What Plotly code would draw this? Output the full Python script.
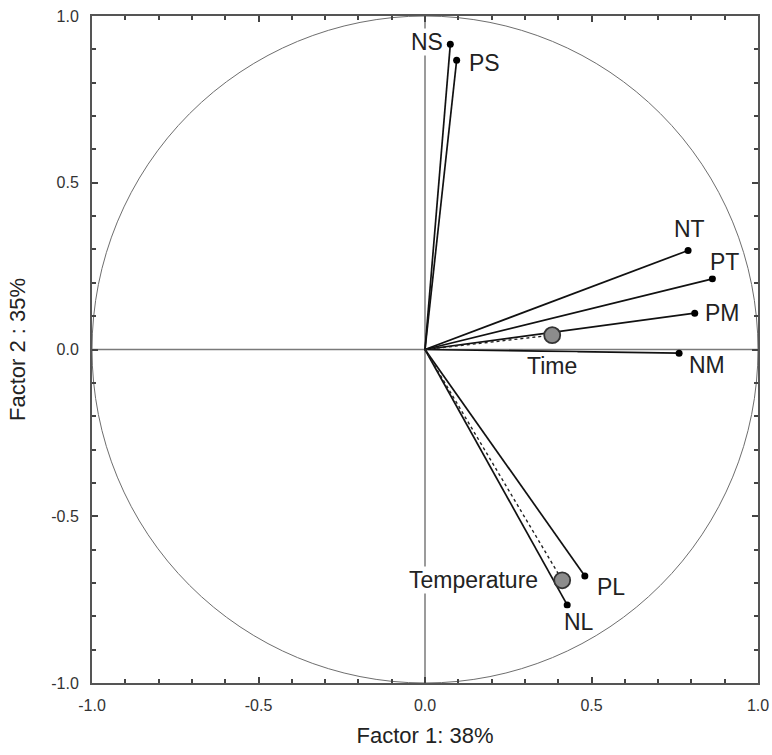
import plotly.graph_objects as go

# Active variables (factor loadings)
var_names = ["NS", "PS", "NT", "PT", "PM", "NM", "PL", "NL"]
var_f1 = [0.076, 0.095, 0.790, 0.863, 0.810, 0.763, 0.480, 0.427]
var_f2 = [0.915, 0.867, 0.297, 0.212, 0.109, -0.011, -0.679, -0.766]

# Supplementary variables
sup_names = ["Time", "Temperature"]
sup_f1 = [0.382, 0.412]
sup_f2 = [0.043, -0.692]

tick_vals = [-1.0, -0.5, 0.0, 0.5, 1.0]
tick_text = ["-1.0", "-0.5", "0.0", "0.5", "1.0"]

x_title = "Factor 1: 38%"
y_title = "Factor 2 : 35%"

FONT = "Liberation Sans, Arial"

# label offsets (px): xshift, yshift, xanchor
var_label_pos = {
    "NS": (-6, 2, "right"),
    "PS": (11, -3, "left"),
    "NT": (1, 21, "center"),
    "PT": (12, 17, "center"),
    "PM": (9, 0, "left"),
    "NM": (28, -12, "center"),
    "PL": (26, -11, "center"),
    "NL": (12, -17, "center"),
}
sup_label_pos = {
    "Time": (0, -31, "center"),
    "Temperature": (-23, 0, "right"),
}

fig = go.Figure()

# unit circle
fig.add_shape(type="circle", xref="x", yref="y", x0=-1, y0=-1, x1=1, y1=1,
              line=dict(color="#6e6e6e", width=1), layer="below")
# zero axes
fig.add_shape(type="line", xref="x", yref="y", x0=-1, x1=1, y0=0, y1=0,
              line=dict(color="#7a7a7a", width=1.5), layer="below")
fig.add_shape(type="line", xref="x", yref="y", x0=0, x1=0, y0=-1, y1=1,
              line=dict(color="#7a7a7a", width=1.5), layer="below")

for n, x, y in zip(var_names, var_f1, var_f2):
    fig.add_trace(go.Scatter(x=[0, x], y=[0, y], mode="lines",
                             line=dict(color="#111111", width=1.7),
                             hoverinfo="skip", showlegend=False))
    fig.add_trace(go.Scatter(x=[x], y=[y], mode="markers",
                             marker=dict(color="#000000", size=7),
                             name=n, showlegend=False))

for n, x, y in zip(sup_names, sup_f1, sup_f2):
    fig.add_trace(go.Scatter(x=[0, x], y=[0, y], mode="lines",
                             line=dict(color="#222222", width=1.4, dash="dot"),
                             hoverinfo="skip", showlegend=False))
    fig.add_trace(go.Scatter(x=[x], y=[y], mode="markers",
                             marker=dict(color="#8c8c8c", size=16,
                                         line=dict(color="#333333", width=1.8)),
                             name=n, showlegend=False))

for n, x, y in zip(var_names, var_f1, var_f2):
    dx, dy, xa = var_label_pos[n]
    fig.add_annotation(x=x, y=y, text=n, showarrow=False, xanchor=xa, yanchor="middle",
                       xshift=dx, yshift=dy, bgcolor="white", borderpad=0,
                       font=dict(family=FONT, size=23, color="#222222"))
for n, x, y in zip(sup_names, sup_f1, sup_f2):
    dx, dy, xa = sup_label_pos[n]
    fig.add_annotation(x=x, y=y, text=n, showarrow=False, xanchor=xa, yanchor="middle",
                       xshift=dx, yshift=dy, bgcolor="white", borderpad=0,
                       font=dict(family=FONT, size=23, color="#222222"))

axis_common = dict(
    range=[-1, 1], tickvals=tick_vals, ticktext=tick_text,
    ticks="inside", ticklen=6, tickwidth=2, tickcolor="#444444",
    minor=dict(dtick=0.1, ticks="inside", ticklen=4, tickwidth=1.5, tickcolor="#444444"),
    showline=True, linecolor="#555555", linewidth=2, mirror="allticks",
    showgrid=False, zeroline=False, automargin=False, ticklabeloverflow="allow",
    tickfont=dict(family=FONT, size=16, color="#333333"),
    title_font=dict(family=FONT, size=22, color="#222222"),
)

fig.update_layout(
    width=772, height=755,
    margin=dict(l=92, r=14, t=16, b=72),
    paper_bgcolor="white", plot_bgcolor="white",
    xaxis=dict(**axis_common, ticklabelstandoff=7, title=dict(text=x_title, standoff=14)),
    yaxis=dict(**axis_common, ticklabelstandoff=8, title=dict(text=y_title, standoff=20)),
    showlegend=False,
)

fig.write_html(
    "out.html",
    config={"displayModeBar": False},
    post_script="document.body.style.margin='0';document.documentElement.style.overflow='hidden';document.body.style.overflow='hidden';",
)
